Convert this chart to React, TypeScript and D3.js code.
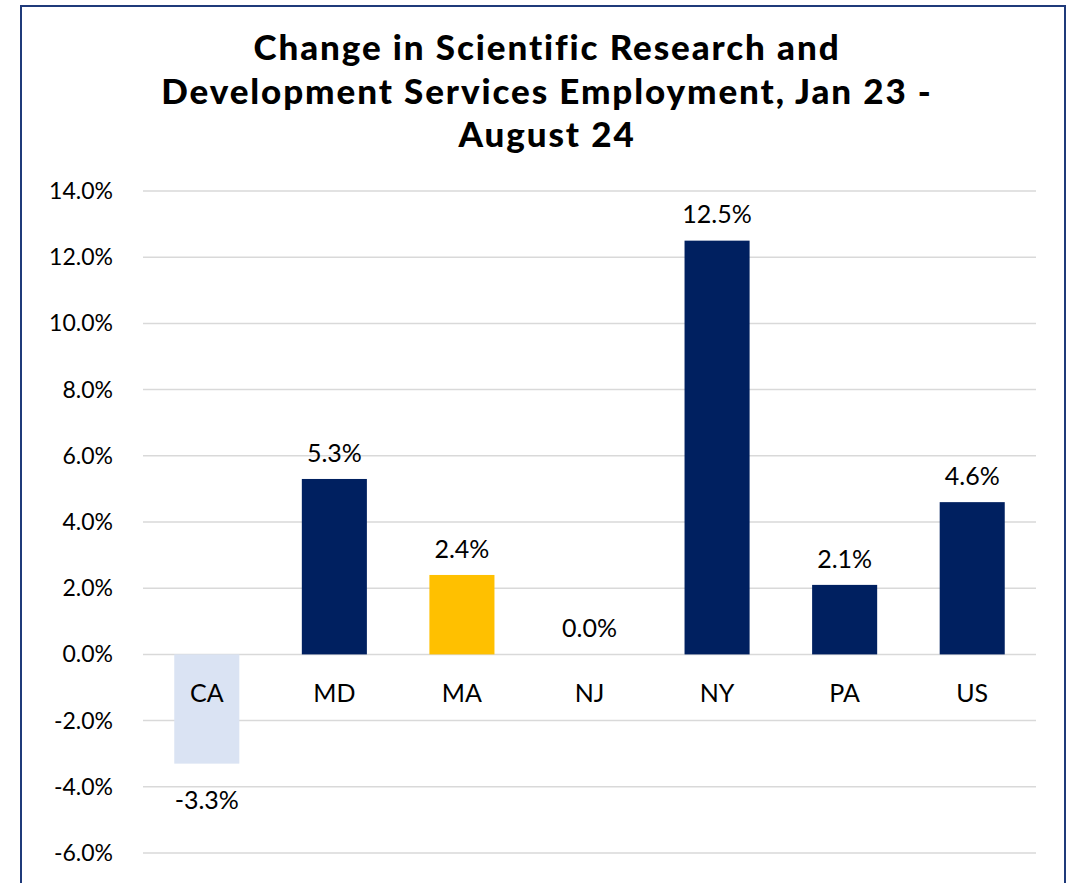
import { useEffect, useRef } from 'react';
import * as d3 from 'd3';

const STATES = ['CA', 'MD', 'MA', 'NJ', 'NY', 'PA', 'US'];
const CHANGE = [-3.3, 5.3, 2.4, 0.0, 12.5, 2.1, 4.6];
const BAR_COLORS = ['#dae3f3', '#002060', '#ffc000', '#002060', '#002060', '#002060', '#002060'];
const Y_TICKS = [-6, -4, -2, 0, 2, 4, 6, 8, 10, 12, 14];
const TITLE_LINES = [
  'Change in Scientific Research and',
  'Development Services Employment, Jan 23 -',
  'August 24',
];

const W = 1069;
const H = 883;
const FONT = 'Lato, "Open Sans", sans-serif';

export default function App() {
  const svgRef = useRef<SVGSVGElement>(null);

  useEffect(() => {
    document.body.style.margin = '0';
    if (!svgRef.current) return;
    const svg = d3.select(svgRef.current);
    svg.selectAll('*').remove();

    const x = d3.scaleBand<string>()
      .domain(STATES)
      .range([143, 1036])
      .paddingInner(0.49)
      .paddingOuter(0.245);

    const y = d3.scaleLinear().domain([-6, 14]).range([853, 191]);

    svg.append('rect')
      .attr('width', W)
      .attr('height', H)
      .attr('fill', '#fff');

    // frame (bottom runs off the page)
    svg.append('path')
      .attr('d', `M21,${H + 5} V6 H1065 V${H + 5}`)
      .attr('fill', 'none')
      .attr('stroke', '#1f3a7a')
      .attr('stroke-width', 2);

    // title
    svg.append('g')
      .selectAll('text')
      .data(TITLE_LINES)
      .enter()
      .append('text')
      .attr('x', 547)
      .attr('y', (_, i) => 60 + i * 43.5)
      .attr('text-anchor', 'middle')
      .attr('font-family', FONT)
      .attr('font-weight', 900)
      .attr('font-size', 35)
      .attr('letter-spacing', 1.9)
      .attr('fill', '#000')
      .text(d => d);

    // grid
    svg.append('g')
      .selectAll('line')
      .data(Y_TICKS)
      .enter()
      .append('line')
      .attr('x1', 143)
      .attr('x2', 1036)
      .attr('y1', d => y(d))
      .attr('y2', d => y(d))
      .attr('stroke', '#d9d9d9')
      .attr('stroke-width', 1.5);

    // y tick labels
    svg.append('g')
      .selectAll('text')
      .data(Y_TICKS)
      .enter()
      .append('text')
      .attr('x', 113)
      .attr('y', d => y(d))
      .attr('dy', '0.35em')
      .attr('text-anchor', 'end')
      .attr('font-family', FONT)
      .attr('font-size', 23)
      .attr('fill', '#000')
      .text(d => d.toFixed(1) + '%');

    const data = STATES.map((s, i) => ({ s, v: CHANGE[i], c: BAR_COLORS[i] }));

    // bars
    svg.append('g')
      .selectAll('rect')
      .data(data)
      .enter()
      .append('rect')
      .attr('x', d => x(d.s)!)
      .attr('width', x.bandwidth())
      .attr('y', d => y(Math.max(0, d.v)))
      .attr('height', d => Math.abs(y(d.v) - y(0)))
      .attr('fill', d => d.c);

    // category labels
    svg.append('g')
      .selectAll('text')
      .data(data)
      .enter()
      .append('text')
      .attr('x', d => x(d.s)! + x.bandwidth() / 2)
      .attr('y', y(0) + 39)
      .attr('dy', '0.35em')
      .attr('text-anchor', 'middle')
      .attr('font-family', FONT)
      .attr('font-size', 25)
      .attr('fill', '#000')
      .text(d => d.s);

    // value labels
    svg.append('g')
      .selectAll('text')
      .data(data)
      .enter()
      .append('text')
      .attr('x', d => x(d.s)! + x.bandwidth() / 2)
      .attr('y', d => (d.v < 0 ? y(d.v) + 37 : y(d.v) - 26))
      .attr('dy', '0.35em')
      .attr('text-anchor', 'middle')
      .attr('font-family', FONT)
      .attr('font-size', 25)
      .attr('fill', '#000')
      .text(d => d.v.toFixed(1) + '%');
  }, []);

  return <svg ref={svgRef} width={W} height={H} style={{ display: 'block' }} />;
}
